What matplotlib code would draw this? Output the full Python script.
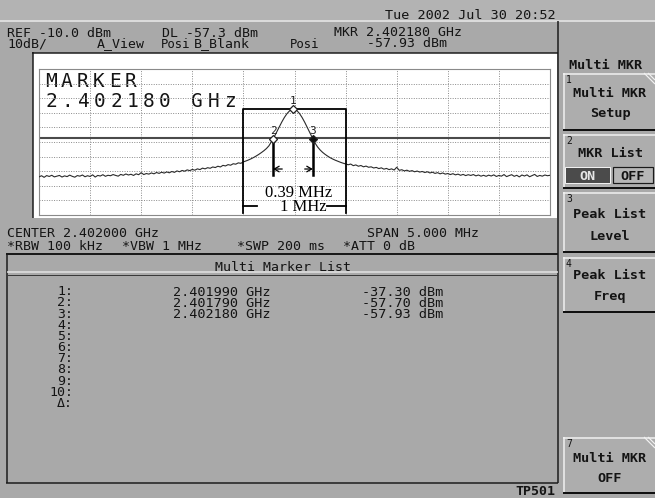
import numpy as np
import matplotlib.pyplot as plt
from matplotlib.patches import Rectangle

# analyzer setup
center_ghz = 2.402000
span_mhz = 5.0
ref_dbm = -10.0
db_div = 10
dl_dbm = -57.3

marker_ids = ["1", "2", "3"]
marker_ghz = [2.401990, 2.401790, 2.402180]
marker_dbm = [-37.30, -57.70, -57.93]

# trace, 201 points across the span (dBm)
trace_dbm = [
    -83.9, -83.1, -84.2, -83.0, -83.6, -82.8, -83.9, -83.4, -82.9, -84.0,
    -83.2, -83.7, -82.7, -83.5, -84.1, -83.0, -83.4, -82.6, -83.8, -83.1,
    -83.6, -82.5, -84.0, -82.9, -83.3, -82.4, -83.5, -82.8, -83.1, -82.3,
    -82.9, -83.4, -82.2, -82.8, -81.9, -82.6, -82.1, -82.9, -81.8, -82.4,
    -81.0, -82.3, -81.6, -82.0, -81.2, -81.8, -80.9, -81.5, -80.7, -81.3,
    -80.5, -81.1, -80.2, -80.8, -79.8, -80.4, -79.5, -80.0, -79.1, -79.6,
    -78.8, -79.3, -78.4, -78.9, -77.9, -78.4, -77.6, -78.0, -77.1, -77.5,
    -76.6, -77.1, -76.0, -76.4, -75.5, -75.9, -74.9, -75.2, -74.3, -74.6,
    -73.6, -73.0, -72.3, -71.5, -70.6, -69.6, -68.5, -67.3, -66.0, -64.5,
    -62.6, -59.7, -56.7, -53.3, -49.8, -46.4, -43.3, -40.7, -38.8, -37.7,
    -37.6,
    -38.6, -40.6, -43.3, -46.5, -50.0, -53.6, -57.2, -60.6, -63.3, -65.4,
    -67.1, -68.5, -69.7, -70.8, -71.7, -72.5, -73.2, -73.9, -74.5, -75.0,
    -75.6, -75.1, -76.2, -75.7, -76.6, -76.1, -77.0, -76.5, -77.3, -77.0,
    -77.8, -77.4, -78.2, -77.7, -78.6, -78.1, -78.9, -78.4, -79.2, -77.3,
    -79.4, -79.0, -79.8, -79.3, -80.1, -79.6, -80.4, -79.9, -80.6, -80.2,
    -80.9, -80.4, -81.2, -80.7, -81.5, -81.0, -81.8, -81.2, -82.0, -81.6,
    -82.3, -81.7, -82.5, -82.0, -82.8, -82.2, -83.0, -82.4, -82.9, -82.3,
    -83.2, -82.6, -83.4, -82.8, -83.5, -82.7, -83.3, -82.5, -83.6, -82.9,
    -83.4, -82.3, -83.7, -83.0, -82.4, -83.5, -82.8, -83.9, -82.6, -83.3,
    -82.5, -83.8, -83.0, -82.2, -83.6, -82.9, -83.4, -82.6, -83.1, -82.8,
]
n = len(trace_dbm)
freq_ghz = center_ghz + span_mhz / 1000 * (np.arange(n) / (n - 1) - 0.5)

W, H = 655, 498
PX = 0.72  # one pixel in points
BG = "#a9a9a9"
INK = "#141414"

fig = plt.figure(figsize=(W / 100, H / 100), dpi=100)
fig.patch.set_facecolor(BG)
scr = fig.add_axes([0, 0, 1, 1])
scr.set_xlim(0, W)
scr.set_ylim(H, 0)
scr.axis("off")


def rect(x0, y0, x1, y1, fc, ec="none", lw=0.0, z=1):
    scr.add_patch(Rectangle((x0, y0), x1 - x0, y1 - y0, facecolor=fc,
                            edgecolor=ec, linewidth=lw, zorder=z))


def line(xs, ys, c="#1a1a1a", w=1.0, z=2):
    scr.plot(xs, ys, color=c, lw=w * PX, solid_capstyle="butt", zorder=z)


def txt(x, y, s, size=9.5, bold=False, c=INK, ha="left"):
    scr.text(x, y, s, fontsize=size, family="DejaVu Sans Mono",
             fontweight="bold" if bold else "normal", color=c, ha=ha,
             va="baseline", zorder=5)


def wide(x, y, s, pitch, size):
    # big screen font has a wider pitch than any installed mono face
    for i, ch in enumerate(s):
        scr.text(x + pitch * (i + 0.5), y, ch, fontsize=size,
                 family="DejaVu Sans Mono", color=INK, ha="center",
                 va="baseline", zorder=5)


# title strip
rect(0, 0, W, 20, "#b3b3b3")
line([0, W], [20.5, 20.5], "#ececec", 1.5)
txt(385, 18.5, "Tue 2002 Jul 30 20:52", size=9.7)

# header lines
txt(7, 36.5, f"REF {ref_dbm:.1f} dBm")
txt(162, 36.5, f"DL {dl_dbm:.1f} dBm")
txt(334, 36, f"MKR {marker_ghz[2]:.6f} GHz")
txt(7, 47.5, f"{db_div}dB/")
txt(97, 47.5, "A_View")
txt(161, 47.5, "Posi", size=8.8)
txt(194, 47.5, "B_Blank")
txt(290, 47.5, "Posi", size=8.8)
txt(367, 47, f"{marker_dbm[2]:.2f} dBm")

# plot window
rect(33, 53, 557, 218, "white")
line([32, 558], [52.5, 52.5], "#1a1a1a", 1.5)
line([32.5, 32.5], [52, 218], "#1a1a1a", 1.5)
line([558, 558], [21, 483], "#1a1a1a", 1.5)

wide(43, 87, "MARKER", 15.9, 14)
wide(43, 107, f"{marker_ghz[2]:.6f} GHz", 16.25, 14)

# settings under the plot
txt(7, 237, f"CENTER {center_ghz:.6f} GHz")
txt(367, 236.5, f"SPAN {span_mhz:.3f} MHz")
txt(7, 250, "*RBW 100 kHz")
txt(122, 250, "*VBW 1 MHz")
txt(237, 250, "*SWP 200 ms")
txt(343, 250, "*ATT 0 dB")

# graticule
ax = fig.add_axes([39 / W, 1 - 215 / H, 511 / W, 146 / H])
f0 = center_ghz - span_mhz / 2000
f1 = center_ghz + span_mhz / 2000
ax.set_xlim(f0, f1)
ax.set_ylim(ref_dbm - 10 * db_div, ref_dbm)
ax.patch.set_alpha(0)
ax.set_xticks(np.linspace(f0, f1, 11)[1:-1])
ax.set_yticks(np.arange(ref_dbm - 9 * db_div, ref_dbm, db_div))
ax.tick_params(length=0, labelbottom=False, labelleft=False)
ax.grid(color="#8a8a8a", ls=(0, (1, 1.5)), lw=0.7)
for s in ax.spines.values():
    s.set_color("#8a8a8a")
    s.set_linewidth(0.8)

ax.axhline(dl_dbm, color="#4a4a4a", lw=1.5, zorder=2)
ax.plot(freq_ghz, trace_dbm, color="#2a2a2a", lw=0.8, zorder=3)

# 1 MHz zone box
hw = 0.5e-3
lvl_box = -108.6
ax.plot([center_ghz - hw, center_ghz - hw, center_ghz + hw, center_ghz + hw],
        [lvl_box, marker_dbm[0], marker_dbm[0], lvl_box],
        color="black", lw=1.3, zorder=4)
ax.plot([center_ghz - hw, center_ghz - hw + 0.137e-3], [-103.8, -103.8],
        color="black", lw=1.3, zorder=4)
ax.plot([center_ghz + 0.318e-3, center_ghz + hw], [-103.8, -103.8],
        color="black", lw=1.3, zorder=4)
ax.text(center_ghz + 0.085e-3, -107.6, "1 MHz", ha="center", va="baseline",
        family="Liberation Serif", fontsize=12, color="black")
bw = (marker_ghz[2] - marker_ghz[1]) * 1000
ax.text(center_ghz + 0.045e-3, -97.7, f"{bw:.2f} MHz", ha="center",
        va="baseline", family="Liberation Serif", fontsize=12, color="black")

# bandwidth marker legs and arrows
for k in (1, 2):
    ax.plot([marker_ghz[k], marker_ghz[k]], [marker_dbm[k] - 2.5, -82.6],
            color="black", lw=1.8, zorder=4)
arrow = dict(arrowstyle="->,head_length=0.35,head_width=0.2", color="black",
             lw=0.9, shrinkA=0, shrinkB=0)
ax.annotate("", xy=(marker_ghz[1], -78.5),
            xytext=(marker_ghz[1] + 0.09e-3, -78.5), arrowprops=arrow)
ax.annotate("", xy=(marker_ghz[2], -78.5),
            xytext=(marker_ghz[2] - 0.08e-3, -78.5), arrowprops=arrow)

# markers
for k, (mid, f, lv) in enumerate(zip(marker_ids, marker_ghz, marker_dbm)):
    fill = "#101010" if k == 2 else "white"
    ax.plot(f, lv, marker="D", ms=4.5, mfc=fill, mec="#202020", mew=0.9,
            zorder=6)
    ax.annotate(mid, (f, lv), textcoords="offset pixels", xytext=(0, 5),
                ha="center", va="baseline", fontsize=8,
                family="DejaVu Sans Mono", color="#202020", zorder=6)

# multi marker list panel
line([6, 558], [253.5, 253.5], "#1a1a1a", 2)
line([7, 7], [253, 483], "#1a1a1a", 1.5)
line([6, 558], [482.5, 482.5], "#1a1a1a", 1.5)
line([7, 558], [272, 272], "#e4e4e4", 1.5)
line([7, 558], [274.5, 274.5], "#3a3a3a", 1)
txt(283, 270.5, "Multi Marker List", ha="center")

row0, dy = 295.3, 11.15
for k in range(11):
    y = row0 + dy * k
    txt(73, y, f"{k + 1}:" if k < 10 else "\u0394:", ha="right")
    if k < len(marker_ghz):
        txt(173, y + 0.5, f"{marker_ghz[k]:.6f} GHz", size=9.7)
        txt(443, y + 0.5, f"{marker_dbm[k]:.2f} dBm", size=9.7, ha="right")

txt(515, 495, "TP501", bold=True)


# soft keys
def key(y0, y1, num, rows, corner=False):
    rect(563, y0, W, y1, "#adadad")
    line([563, W], [y0 + 0.75, y0 + 0.75], "#f2f2f2", 1.5)
    line([563.75, 563.75], [y0, y1], "#f2f2f2", 1.5)
    line([563, W], [y1 - 1, y1 - 1], "#101010", 2)
    txt(566, y0 + 9.5, num, size=7)
    for s, yb in rows:
        txt(610, yb, s, size=9.7, bold=True, ha="center")
    if corner:
        line([644, W], [y0, y0 + 11], "#f2f2f2", 1.2, z=3)
        line([648, W], [y0, y0 + 7], "#f2f2f2", 1.2, z=3)


txt(606, 69, "Multi MKR", size=9.7, bold=True, ha="center")
key(73, 131, "1", [("Multi MKR", 97), ("Setup", 117)], corner=True)
key(134, 189, "2", [("MKR List", 157)])
key(192, 253, "3", [("Peak List", 218), ("Level", 240)])
key(257, 313, "4", [("Peak List", 279), ("Freq", 300)])
key(437, 494, "7", [("Multi MKR", 462), ("OFF", 482)], corner=True)

rect(565, 167, 610, 183, "#4b4b4b", ec="#f0f0f0", lw=1 * PX, z=3)
txt(587.5, 180, "ON", size=9.7, bold=True, c="#e6e6e6", ha="center")
rect(613, 167, 653, 183, "#b6b6b6", ec="#1a1a1a", lw=1.2 * PX, z=3)
txt(633, 180, "OFF", size=9.7, bold=True, ha="center")

fig.savefig("out.png", dpi=100, facecolor=fig.get_facecolor())
